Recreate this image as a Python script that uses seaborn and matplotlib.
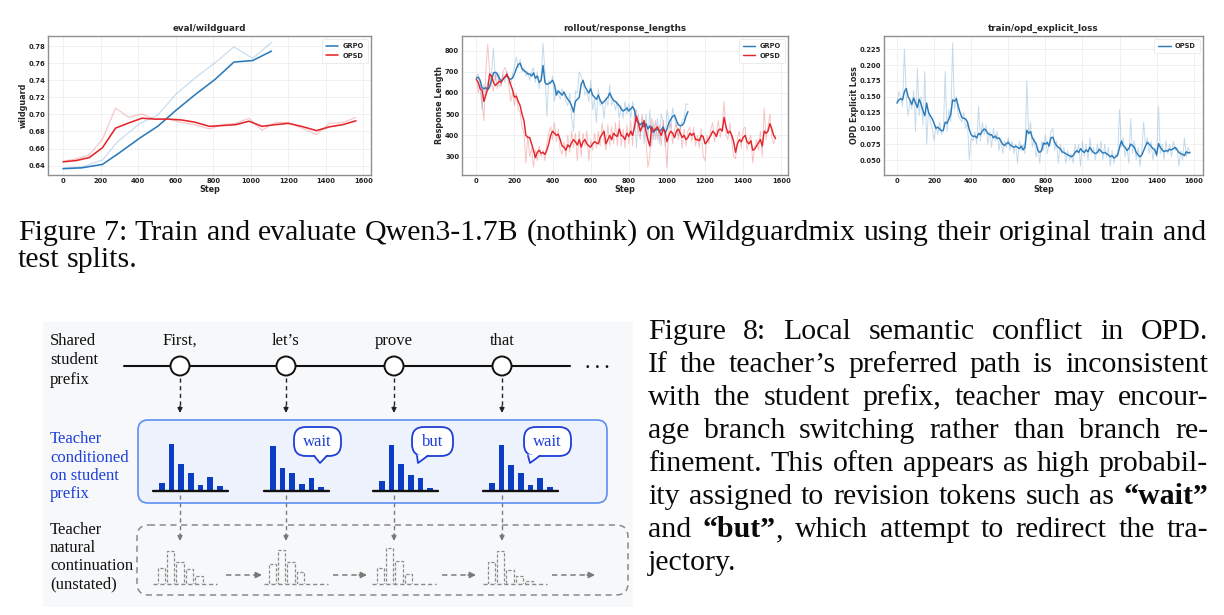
import numpy as np
import pandas as pd
import matplotlib
matplotlib.use("Agg")
import matplotlib.pyplot as plt
from matplotlib.ticker import FormatStrFormatter
from matplotlib.patches import FancyBboxPatch, Circle, Rectangle, Polygon
import seaborn as sns

# ---------------- data ----------------
# eval/wildguard
grpo_eval_steps = [0, 100, 210, 290, 410, 505, 600, 700, 810, 910, 1010, 1110]
grpo_eval_raw = [0.637, 0.6385, 0.6466, 0.668, 0.6895, 0.6993, 0.7235, 0.742, 0.7605, 0.779, 0.7656, 0.784]
grpo_eval_smooth = [0.6365, 0.6375, 0.6415, 0.6535, 0.6725, 0.6862, 0.7045, 0.7225, 0.741, 0.7612, 0.763, 0.774]
opsd_eval_steps = [0, 70, 140, 210, 280, 350, 420, 490, 560, 630, 700, 780, 850, 920, 990, 1060,
                   1130, 1200, 1270, 1350, 1420, 1490, 1560]
opsd_eval_raw = [0.645, 0.648, 0.6525, 0.671, 0.7075, 0.6965, 0.7005, 0.694, 0.6945, 0.6905, 0.688,
                 0.683, 0.688, 0.6895, 0.6955, 0.6815, 0.6905, 0.6905, 0.684, 0.6765, 0.6895, 0.6905, 0.6965]
opsd_eval_smooth = [0.6445, 0.646, 0.6495, 0.661, 0.684, 0.690, 0.6955, 0.6945, 0.6945, 0.6935, 0.691,
                    0.686, 0.687, 0.688, 0.692, 0.686, 0.688, 0.6895, 0.686, 0.681, 0.6855, 0.688, 0.6925]

# rollout/response_lengths (every 10 steps)
grpo_len_steps = list(range(0, 1120, 10))
grpo_len_raw = [680, 690, 640, 520, 640, 600, 650, 620, 700, 810, 660, 700, 630, 640, 690, 650, 700, 660, 640, 690,
                720, 770, 720, 760, 700, 720, 680, 700, 660, 700, 720, 650, 700, 620, 680, 835, 700, 490, 660, 640,
                680, 560, 620, 600, 570, 620, 590, 560, 540, 600, 480, 420, 610, 600, 700, 680, 650, 590, 610, 560,
                660, 520, 570, 460, 620, 540, 560, 480, 580, 540, 640, 540, 570, 520, 560, 480, 540, 480, 560, 500,
                550, 480, 560, 500, 340, 500, 400, 480, 360, 500, 380, 520, 350, 460, 380, 480, 360, 500, 470, 350,
                520, 470, 430, 530, 480, 440, 400, 430, 470, 480, 550, 545]
grpo_len_smooth = [670, 675, 660, 625, 620, 625, 615, 630, 660, 695, 698, 690, 670, 655, 665, 675, 680, 670, 665, 670,
                   690, 715, 735, 740, 715, 705, 700, 690, 690, 680, 695, 670, 680, 650, 660, 730, 650, 640, 645, 650,
                   660, 640, 590, 610, 600, 590, 605, 585, 570, 560, 540, 510, 560, 570, 580, 640, 660, 630, 615, 600,
                   620, 590, 580, 570, 590, 565, 550, 560, 570, 580, 600, 580, 565, 560, 550, 540, 525, 515, 520, 530,
                   515, 525, 535, 520, 470, 460, 450, 460, 440, 455, 430, 445, 420, 415, 425, 430, 420, 425, 440, 410,
                   430, 460, 475, 490, 495, 470, 450, 445, 448, 460, 490, 512]
opsd_len_steps = list(range(0, 1580, 10))
opsd_len_raw = [680, 600, 640, 560, 470, 700, 830, 700, 640, 610, 690, 620, 690, 630, 700, 720, 700, 640, 560, 600,
                540, 600, 520, 510, 440, 410, 270, 400, 300, 340, 250, 330, 280, 350, 300, 330, 280, 360, 410, 440,
                380, 460, 370, 430, 330, 310, 370, 300, 400, 320, 420, 340, 410, 280, 420, 300, 410, 350, 420, 280,
                380, 330, 410, 340, 420, 350, 460, 380, 330, 450, 350, 440, 360, 460, 350, 470, 350, 430, 340, 450,
                360, 470, 350, 500, 520, 420, 380, 500, 440, 380, 250, 300, 480, 380, 470, 380, 450, 350, 470, 380,
                250, 430, 460, 360, 430, 460, 380, 440, 340, 430, 350, 420, 440, 370, 440, 350, 400, 340, 430, 300,
                280, 400, 360, 430, 460, 370, 420, 470, 390, 450, 560, 400, 380, 460, 370, 300, 290, 390, 420, 340,
                430, 440, 330, 380, 400, 270, 340, 380, 330, 420, 300, 530, 380, 440, 500, 390, 360, 400]
opsd_len_smooth = [665, 650, 620, 615, 560, 590, 620, 690, 680, 650, 635, 645, 655, 650, 665, 675, 690, 670, 640, 615,
                   580, 585, 560, 540, 500, 470, 400, 390, 390, 360, 330, 295, 320, 330, 315, 320, 310, 330, 360, 400,
                   420, 410, 400, 405, 380, 350, 345, 330, 355, 345, 365, 380, 370, 355, 380, 345, 370, 380, 360, 350,
                   345, 360, 370, 365, 360, 390, 405, 420, 360, 380, 400, 380, 410, 400, 395, 430, 400, 395, 380, 410,
                   395, 420, 400, 440, 490, 460, 420, 440, 470, 420, 380, 350, 440, 420, 430, 440, 420, 400, 430, 420,
                   370, 400, 420, 410, 390, 420, 430, 410, 390, 400, 380, 390, 410, 400, 410, 380, 380, 375, 400, 395,
                   360, 370, 385, 400, 420, 410, 395, 425, 430, 420, 485, 440, 410, 420, 400, 370, 320, 360, 380, 370,
                   390, 400, 370, 360, 375, 330, 335, 350, 365, 380, 350, 420, 410, 420, 455, 430, 400, 385]

# train/opd_explicit_loss (every 10 steps)
loss_steps = list(range(0, 1590, 10))
loss_raw = [0.140, 0.158, 0.150, 0.135, 0.225, 0.150, 0.120, 0.145, 0.130, 0.160, 0.095, 0.195, 0.120, 0.150, 0.105,
            0.190, 0.075, 0.130, 0.110, 0.100, 0.080, 0.105, 0.090, 0.110, 0.090, 0.095, 0.190, 0.095, 0.130, 0.110,
            0.235, 0.130, 0.150, 0.120, 0.115, 0.110, 0.125, 0.100, 0.110, 0.050, 0.085, 0.080, 0.095, 0.075, 0.135,
            0.080, 0.110, 0.090, 0.105, 0.075, 0.095, 0.070, 0.100, 0.080, 0.095, 0.065, 0.085, 0.060, 0.080, 0.070,
            0.085, 0.065, 0.080, 0.060, 0.075, 0.045, 0.080, 0.065, 0.075, 0.060, 0.175, 0.090, 0.110, 0.070, 0.085,
            0.055, 0.070, 0.045, 0.080, 0.065, 0.090, 0.060, 0.075, 0.095, 0.100, 0.065, 0.080, 0.045, 0.075, 0.060,
            0.070, 0.045, 0.065, 0.050, 0.060, 0.045, 0.075, 0.060, 0.075, 0.040, 0.080, 0.055, 0.075, 0.050, 0.085,
            0.060, 0.070, 0.050, 0.075, 0.060, 0.080, 0.050, 0.075, 0.055, 0.070, 0.040, 0.065, 0.045, 0.060, 0.055,
            0.130, 0.070, 0.085, 0.055, 0.070, 0.045, 0.115, 0.060, 0.080, 0.050, 0.070, 0.040, 0.065, 0.110, 0.075,
            0.085, 0.060, 0.080, 0.050, 0.070, 0.055, 0.135, 0.060, 0.075, 0.050, 0.080, 0.060, 0.075, 0.055, 0.080,
            0.065, 0.070, 0.040, 0.065, 0.050, 0.085, 0.055, 0.070, 0.060]
loss_smooth = [0.140, 0.145, 0.147, 0.145, 0.158, 0.163, 0.150, 0.145, 0.138, 0.148, 0.140, 0.133, 0.146, 0.138, 0.128,
               0.120, 0.140, 0.125, 0.120, 0.115, 0.108, 0.100, 0.102, 0.099, 0.096, 0.097, 0.110, 0.108, 0.115, 0.122,
               0.145, 0.143, 0.147, 0.135, 0.125, 0.117, 0.116, 0.115, 0.110, 0.098, 0.090, 0.087, 0.088, 0.085, 0.092,
               0.090, 0.096, 0.099, 0.097, 0.092, 0.090, 0.090, 0.085, 0.088, 0.084, 0.085, 0.080, 0.075, 0.073, 0.076,
               0.078, 0.074, 0.072, 0.070, 0.072, 0.070, 0.068, 0.072, 0.066, 0.070, 0.097, 0.092, 0.095, 0.085, 0.080,
               0.076, 0.065, 0.062, 0.065, 0.077, 0.075, 0.078, 0.072, 0.085, 0.086, 0.078, 0.073, 0.070, 0.068, 0.063,
               0.062, 0.060, 0.058, 0.057, 0.055, 0.057, 0.062, 0.065, 0.062, 0.068, 0.064, 0.062, 0.066, 0.063, 0.070,
               0.065, 0.062, 0.060, 0.062, 0.067, 0.064, 0.061, 0.062, 0.060, 0.058, 0.055, 0.057, 0.053, 0.055, 0.058,
               0.070, 0.080, 0.073, 0.070, 0.065, 0.068, 0.075, 0.073, 0.070, 0.062, 0.058, 0.055, 0.058, 0.065, 0.072,
               0.078, 0.075, 0.072, 0.068, 0.066, 0.058, 0.076, 0.070, 0.066, 0.063, 0.065, 0.064, 0.067, 0.066, 0.068,
               0.070, 0.066, 0.062, 0.060, 0.059, 0.057, 0.063, 0.061, 0.062]

# diagram
tokens = ["First,", "let’s", "prove", "that"]
bubble_words = [None, "wait", "but", "wait"]
teacher_probs = [[8, 47, 27, 18, 6, 14, 5],
                 [45, 23, 18, 7, 13, 4],
                 [10, 46, 27, 16, 13, 3],
                 [8, 46, 26, 18, 6, 13, 4]]
natural_probs = [[16, 33, 22, 15, 8],
                 [20, 34, 22, 12],
                 [16, 36, 23, 10],
                 [22, 33, 14, 8, 3]]

# ---------------- figure ----------------
W, H = 1224, 615
sns.set_theme(style="whitegrid")
plt.rcParams['font.family'] = ['DejaVu Sans']
fig = plt.figure(figsize=(W / 100, H / 100), dpi=100)
fig.patch.set_facecolor('white')


def px_axes(x0, y0, x1, y1, **kw):
    return fig.add_axes([x0 / W, 1 - y1 / H, (x1 - x0) / W, (y1 - y0) / H], **kw)


ov = px_axes(0, 0, W, H, zorder=0)
ov.set_xlim(0, W)
ov.set_ylim(H, 0)
ov.axis('off')

BLUE = '#2b7bba'
RED = '#e3262b'


def style(ax, title, ylabel, xlim, ylim, yticks, fmt):
    ax.set_xlim(*xlim)
    ax.set_ylim(*ylim)
    ax.set_xticks(range(0, 1601, 200))
    ax.set_yticks(yticks)
    ax.yaxis.set_major_formatter(FormatStrFormatter(fmt))
    ax.set_title(title, fontsize=6.3, fontweight='bold', pad=3.5)
    ax.set_xlabel('Step', fontsize=5.8, fontweight='bold', labelpad=1.0)
    ax.set_ylabel(ylabel, fontsize=5.8, fontweight='bold', labelpad=0.5)
    ax.tick_params(labelsize=4.9, length=0, pad=2.0, colors='#222')
    for lab in ax.get_xticklabels() + ax.get_yticklabels():
        lab.set_fontweight('bold')
    for s in ax.spines.values():
        s.set_color('#8f8f8f')
        s.set_linewidth(1.0)
    ax.grid(True, color='#ececec', lw=0.5)
    ax.set_facecolor('white')
    leg = ax.legend(loc='upper right', prop={'size': 4.8, 'weight': 'bold'}, frameon=True,
                    handlelength=1.9, handletextpad=0.6, borderpad=0.6, labelspacing=0.5, framealpha=1)
    leg.get_frame().set_edgecolor('#e6e6e6')
    leg.get_frame().set_linewidth(0.5)


# chart 1
ax1 = px_axes(48, 36, 371, 175, zorder=2)
sns.lineplot(x=grpo_eval_steps, y=grpo_eval_raw, ax=ax1, color=BLUE, alpha=0.25, lw=0.9, legend=False)
sns.lineplot(x=opsd_eval_steps, y=opsd_eval_raw, ax=ax1, color=RED, alpha=0.25, lw=0.9, legend=False)
sns.lineplot(x=grpo_eval_steps, y=grpo_eval_smooth, ax=ax1, color=BLUE, lw=1.15, label='GRPO')
sns.lineplot(x=opsd_eval_steps, y=opsd_eval_smooth, ax=ax1, color=RED, lw=1.15, label='OPSD')
style(ax1, 'eval/wildguard', 'wildguard', (-80, 1640), (0.6291, 0.7917),
      [0.64, 0.66, 0.68, 0.70, 0.72, 0.74, 0.76, 0.78], '%.2f')

# chart 2
ax2 = px_axes(462, 36, 788, 175, zorder=2)
sns.lineplot(x=grpo_len_steps, y=grpo_len_raw, ax=ax2, color=BLUE, alpha=0.27, lw=0.7, legend=False)
sns.lineplot(x=opsd_len_steps, y=opsd_len_raw, ax=ax2, color=RED, alpha=0.27, lw=0.7, legend=False)
sns.lineplot(x=grpo_len_steps, y=grpo_len_smooth, ax=ax2, color=BLUE, lw=1.05, label='GRPO')
sns.lineplot(x=opsd_len_steps, y=opsd_len_smooth, ax=ax2, color=RED, lw=1.05, label='OPSD')
style(ax2, 'rollout/response_lengths', 'Response Length', (-75, 1635), (213, 869),
      [300, 400, 500, 600, 700, 800], '%d')

# chart 3
ax3 = px_axes(884, 36, 1203, 175, zorder=2)
sns.lineplot(x=loss_steps, y=loss_raw, ax=ax3, color=BLUE, alpha=0.27, lw=0.7, legend=False)
sns.lineplot(x=loss_steps, y=loss_smooth, ax=ax3, color=BLUE, lw=1.05, label='OPSD')
style(ax3, 'train/opd_explicit_loss', 'OPD Explicit Loss', (-70, 1650), (0.0263, 0.246),
      [0.05, 0.075, 0.1, 0.125, 0.15, 0.175, 0.2, 0.225], '%.3f')

# ---------------- captions ----------------
SERIF = 'Liberation Serif'
CAP = 21.5
renderer = fig.canvas.get_renderer()


def place_line(words, x0, x1, y, justify=True, size=CAP):
    objs = []
    widths = []
    for word in words:
        parts = []
        ww = 0
        for txt, wt in word:
            t = ov.text(0, y, txt, fontsize=size, fontweight=wt, family=SERIF, va='baseline', ha='left',
                        color='#0a0a0a')
            w = t.get_window_extent(renderer=renderer).width
            parts.append((t, w))
            ww += w
        objs.append(parts)
        widths.append(ww)
    if justify and len(objs) > 1:
        gap = (x1 - x0 - sum(widths)) / (len(objs) - 1)
    else:
        gap = 0.25 * size * 100 / 72
    x = x0
    for parts, ww in zip(objs, widths):
        xx = x
        for t, w in parts:
            t.set_x(xx)
            xx += w
        x += ww + gap


def simple(s):
    return [[(w, 'normal')] for w in s.split(' ')]


place_line(simple("Figure 7: Train and evaluate Qwen3-1.7B (nothink) on Wildguardmix using their original train and"),
           18, 1206, 240)
place_line(simple("test splits."), 18, 1206, 267, justify=False)

fig8_lines = [
    simple("Figure 8: Local semantic conflict in OPD."),
    simple("If the teacher’s preferred path is inconsistent"),
    simple("with the student prefix, teacher may encour-"),
    simple("age branch switching rather than branch re-"),
    simple("finement. This often appears as high probabil-"),
    simple("ity assigned to revision tokens such as") + [[("“wait”", 'bold')]],
    [[("and", 'normal')], [("“but”", 'bold'), (",", 'normal')]] + simple("which attempt to redirect the tra-"),
    simple("jectory."),
]
for i, words in enumerate(fig8_lines):
    place_line(words, 648, 1208, 339 + 33 * i, justify=(i < len(fig8_lines) - 1))

# ---------------- diagram ----------------
DS = 12
TBLUE = '#1f3fd8'
BARBLUE = '#0b3cc4'
GREY = '#7a7a7a'
ov.add_patch(Rectangle((43, 322), 590, 285, facecolor='#f7f8fa', edgecolor='none', zorder=0))

for i, line in enumerate(["Shared", "student", "prefix"]):
    ov.text(50, 345 + 19.5 * i, line, fontsize=DS, family=SERIF, va='baseline', color='#111')
for i, line in enumerate(["Teacher", "conditioned", "on student", "prefix"]):
    ov.text(50, 443 + 18.5 * i, line, fontsize=DS, family=SERIF, va='baseline', color=TBLUE)
for i, line in enumerate(["Teacher", "natural", "continuation", "(unstated)"]):
    ov.text(50, 534 + 18 * i, line, fontsize=DS, family=SERIF, va='baseline', color='#111')

node_x = [180, 286, 394, 502]
ov.plot([124, 570], [366, 366], color='#111', lw=1.5, zorder=1)
ov.text(597, 368, "· · ·", fontsize=12, fontweight='bold', family=SERIF, ha='center', va='center', color='#111')

# blue box
ov.add_patch(FancyBboxPatch((138, 420), 469, 83, boxstyle='round,pad=0,rounding_size=10',
                            facecolor='#edf2fd', edgecolor='#5d8ff0', lw=1.2, zorder=1))
# dashed box
ov.add_patch(FancyBboxPatch((137, 525), 491, 70, boxstyle='round,pad=0,rounding_size=12',
                            facecolor='none', edgecolor='#8a8a8a', lw=1.1, ls=(0, (4, 3)), zorder=1))


def arrow_down(x, y0, y1, color):
    ov.plot([x, x], [y0, y1 - 6], color=color, lw=1.0, ls=(0, (3, 2.5)), zorder=2)
    ov.annotate('', xy=(x, y1), xytext=(x, y1 - 7),
                arrowprops=dict(arrowstyle='-|>', color=color, lw=1.0, mutation_scale=7, shrinkA=0, shrinkB=0),
                zorder=3)


def arrow_right(x0, x1, y, color):
    ov.plot([x0, x1 - 7], [y, y], color=color, lw=1.1, ls=(0, (3.5, 2.5)), zorder=2)
    ov.annotate('', xy=(x1, y), xytext=(x1 - 8, y),
                arrowprops=dict(arrowstyle='-|>', color=color, lw=1.1, mutation_scale=9, shrinkA=0, shrinkB=0),
                zorder=3)


for cx, tok in zip(node_x, tokens):
    ov.add_patch(Circle((cx, 366), 9.5, facecolor='white', edgecolor='#111', lw=1.4, zorder=3))
    ov.text(cx, 345, tok, fontsize=DS, family=SERIF, ha='center', va='baseline', color='#111')
    arrow_down(cx, 378, 413, '#222')
    arrow_down(cx, 495, 541, GREY)

for x0, x1 in [(226, 262), (333, 367), (442, 476), (552, 595)]:
    arrow_right(x0, x1, 575, GREY)

# teacher histograms
teacher_left = [153, 264, 373, 483]
for left, probs in zip(teacher_left, teacher_probs):
    n = len(probs)
    span = (n + 0.75) * 9.7
    a = px_axes(left, 441, left + span, 491, zorder=1)
    a.set_xlim(-0.9, n - 0.15)
    a.set_ylim(0, 50)
    a.bar(range(n), probs, width=0.6, color=BARBLUE, edgecolor='none')
    a.axhline(0, color='#111', lw=1.7, clip_on=False)
    a.axis('off')
    a.patch.set_alpha(0)

# natural continuation histograms (dashed outlines)
natural_left = [153, 264, 372, 483]
for left, probs in zip(natural_left, natural_probs):
    n = len(probs)
    a = px_axes(left, 544, left + 64, 584, zorder=1)
    a.set_xlim(-0.85, 5.9)
    a.set_ylim(0, 40)
    a.bar(range(n), probs, width=0.75, fill=False, edgecolor='#8a8a8a', lw=0.9, ls=(0, (2.5, 1.5)))
    a.axhline(0, color='#8a8a8a', lw=1.0, ls=(0, (3, 2)), clip_on=False)
    a.axis('off')
    a.patch.set_alpha(0)

# speech bubbles
bubbles = [(294, 341, 427, 456, 314, 327, (320, 463)),
           (412, 453, 427, 456, 417, 428, (418, 463)),
           (524, 571, 427, 456, 528, 540, (530, 463))]
for (x0, x1, y0, y1, tb0, tb1, tip), word in zip(bubbles, bubble_words[1:]):
    ov.add_patch(FancyBboxPatch((x0, y0), x1 - x0, y1 - y0, boxstyle='round,pad=0,rounding_size=12',
                                facecolor='white', edgecolor=TBLUE, lw=1.3, zorder=4))
    ov.add_patch(Polygon([(tb0, y1 - 1.6), tip, (tb1, y1 - 1.6)], closed=True, facecolor='white',
                         edgecolor='none', zorder=5))
    ov.plot([tb0, tip[0], tb1], [y1 - 0.3, tip[1], y1 - 0.3], color=TBLUE, lw=1.3, zorder=6)
    ov.text((x0 + x1) / 2, (y0 + y1) / 2 + 1, word, fontsize=DS, family=SERIF, ha='center', va='center',
            color=TBLUE, zorder=7)

fig.savefig('out.png', dpi=100, facecolor='white')
